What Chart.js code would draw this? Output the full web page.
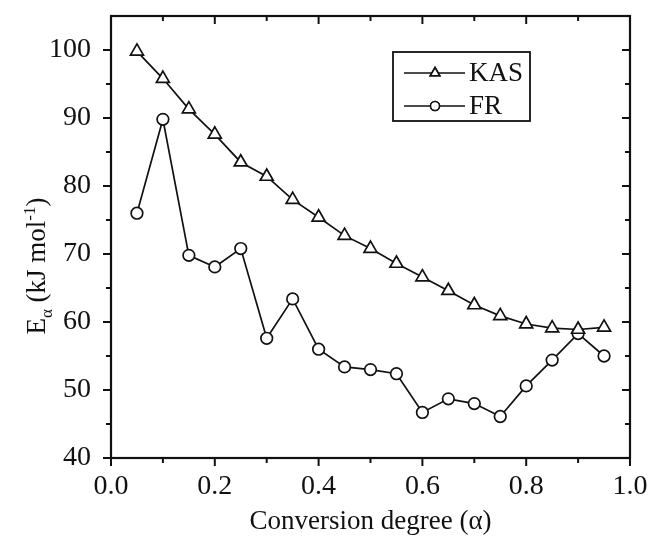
<!DOCTYPE html>
<html>
<head>
<meta charset="utf-8">
<script src="https://cdn.jsdelivr.net/npm/chart.js@4.4.1/dist/chart.umd.min.js"></script>
<style>
  html, body { margin: 0; padding: 0; background: #fff; }
  #wrap { position: relative; width: 649px; height: 544px; }
</style>
</head>
<body>
<div id="wrap"><canvas id="c" width="649" height="544"></canvas></div>
<script>
// ---- data ----
const alphaValues = [0.05, 0.10, 0.15, 0.20, 0.25, 0.30, 0.35, 0.40, 0.45, 0.50,
                     0.55, 0.60, 0.65, 0.70, 0.75, 0.80, 0.85, 0.90, 0.95];
const kasValues = [99.8, 95.8, 91.3, 87.6, 83.5, 81.4, 78.0, 75.4, 72.7, 70.8,
                   68.6, 66.6, 64.6, 62.5, 60.9, 59.7, 59.1, 58.9, 59.2];
const frValues  = [76.0, 89.8, 69.8, 68.1, 70.8, 57.6, 63.4, 56.0, 53.4, 53.0,
                   52.4, 46.7, 48.7, 48.0, 46.1, 50.6, 54.4, 58.3, 55.0];
const seriesNames = ['KAS', 'FR'];
const xMajorTicks = [0, 0.2, 0.4, 0.6, 0.8, 1.0];
const xMinorTicks = [0.1, 0.3, 0.5, 0.7, 0.9];
const yMajorTicks = [40, 50, 60, 70, 80, 90, 100];
const yMinorTicks = [45, 55, 65, 75, 85, 95];
const xTitle = 'Conversion degree (\u03B1)';

const FONT = '"Liberation Serif", "Times New Roman", serif';
const INK = '#111';

const toPts = (vals) => alphaValues.map((a, i) => ({ x: a, y: vals[i] }));

const framePlugin = {
  id: 'frame',
  afterDatasetsDraw(chart) {
    const { ctx, chartArea: a, scales: { x, y } } = chart;
    ctx.save();
    ctx.strokeStyle = INK;
    ctx.lineWidth = 2.2;
    ctx.strokeRect(a.left, a.top, a.right - a.left, a.bottom - a.top);
    const tick = (x1, y1, x2, y2) => { ctx.beginPath(); ctx.moveTo(x1, y1); ctx.lineTo(x2, y2); ctx.stroke(); };
    const MJ = 8, MN = 5;
    ctx.lineWidth = 2;
    xMajorTicks.forEach(v => { const px = x.getPixelForValue(v); tick(px, a.bottom, px, a.bottom + MJ); tick(px, a.top, px, a.top + MJ); });
    xMinorTicks.forEach(v => { const px = x.getPixelForValue(v); tick(px, a.bottom, px, a.bottom + MN); tick(px, a.top, px, a.top + MN); });
    yMajorTicks.forEach(v => { const py = y.getPixelForValue(v); tick(a.left - MJ, py, a.left, py); tick(a.right - MJ, py, a.right, py); });
    yMinorTicks.forEach(v => { const py = y.getPixelForValue(v); tick(a.left - MN, py, a.left, py); tick(a.right - MN, py, a.right, py); });

    // x title
    ctx.fillStyle = INK;
    ctx.font = '27px ' + FONT;
    ctx.textAlign = 'center';
    ctx.textBaseline = 'middle';
    ctx.fillText(xTitle, (a.left + a.right) / 2, 522);

    // y title with subscript / superscript
    ctx.translate(36, 266);
    ctx.rotate(-Math.PI / 2);
    const big = '27px ' + FONT, small = '17px ' + FONT;
    const parts = [
      { t: 'E', f: big, dy: 0 },
      { t: '\u03B1', f: small, dy: 7 },
      { t: ' (kJ mol', f: big, dy: 0 },
      { t: '-1', f: small, dy: -10 },
      { t: ')', f: big, dy: 0 }
    ];
    let total = 0;
    parts.forEach(p => { ctx.font = p.f; p.w = ctx.measureText(p.t).width; total += p.w; });
    let cx = -total / 2;
    ctx.textAlign = 'left';
    ctx.textBaseline = 'alphabetic';
    parts.forEach(p => { ctx.font = p.f; ctx.fillText(p.t, cx, 9 + p.dy); cx += p.w; });
    ctx.restore();

    // legend
    ctx.save();
    ctx.strokeStyle = INK;
    ctx.lineWidth = 1.8;
    ctx.strokeRect(393, 52, 137, 69);
    const rows = [73, 106];
    chart.data.datasets.forEach((ds, i) => {
      const yy = rows[i];
      ctx.lineWidth = 1.6;
      ctx.strokeStyle = INK;
      tick(404, yy, 465, yy);
      ctx.fillStyle = '#fff';
      Chart.helpers.drawPoint(ctx, { pointStyle: ds.pointStyle, radius: i === 0 ? 5.5 : 4.5, borderWidth: 1.6 }, 435, yy);
      ctx.fill(); ctx.stroke();
      ctx.fillStyle = INK;
      ctx.font = '27px ' + FONT;
      ctx.textAlign = 'left';
      ctx.textBaseline = 'middle';
      ctx.fillText(ds.label, 469, yy + 1);
    });
    ctx.restore();
  }
};

new Chart(document.getElementById('c'), {
  type: 'line',
  data: {
    datasets: [
      { label: seriesNames[0], data: toPts(kasValues), pointStyle: 'triangle', pointRadius: 7.5,
        borderColor: INK, borderWidth: 1.7, pointBorderColor: INK, pointBackgroundColor: '#fff',
        pointBorderWidth: 1.7, tension: 0 },
      { label: seriesNames[1], data: toPts(frValues), pointStyle: 'circle', pointRadius: 5.8,
        borderColor: INK, borderWidth: 1.7, pointBorderColor: INK, pointBackgroundColor: '#fff',
        pointBorderWidth: 1.7, tension: 0 }
    ]
  },
  options: {
    responsive: false,
    animation: false,
    devicePixelRatio: 1,
    layout: { padding: { top: 16, right: 19, left: 0, bottom: 0 } },
    plugins: { legend: { display: false }, tooltip: { enabled: false } },
    scales: {
      x: {
        type: 'linear', min: 0, max: 1,
        afterFit: s => { s.height = 86; s.paddingLeft = 0; s.paddingRight = 0; },
        afterBuildTicks: s => { s.ticks = xMajorTicks.map(v => ({ value: v })); },
        grid: { display: false, drawTicks: false },
        border: { display: false },
        ticks: { color: INK, font: { family: FONT, size: 28 }, padding: 12,
                 callback: v => Number(v).toFixed(1), maxRotation: 0 }
      },
      y: {
        type: 'linear', min: 40, max: 105,
        afterFit: s => { s.width = 111; s.paddingTop = 0; s.paddingBottom = 0; },
        afterBuildTicks: s => { s.ticks = yMajorTicks.map(v => ({ value: v })); },
        grid: { display: false, drawTicks: false },
        border: { display: false },
        ticks: { color: INK, font: { family: FONT, size: 28 }, padding: 20,
                 callback: v => String(v) }
      }
    }
  },
  plugins: [framePlugin]
});
</script>
</body>
</html>
